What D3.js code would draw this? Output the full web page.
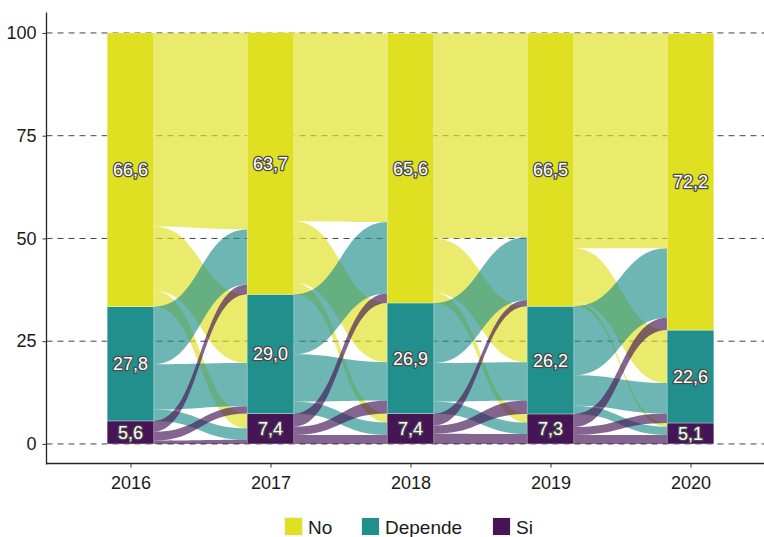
<!DOCTYPE html>
<html>
<head>
<meta charset="utf-8">
<script src="https://cdn.jsdelivr.net/npm/d3@7"></script>
<style>
  body { margin: 0; background: #fff; }
  text { font-family: "Liberation Sans", Arial, sans-serif; }
</style>
</head>
<body>
<svg id="chart" width="764" height="537"></svg>
<script>
// data
var years = ["2016", "2017", "2018", "2019", "2020"];
var categories = ["No", "Depende", "Si"];
var colors = ["#dfe021", "#21908c", "#451556"];

var no = [66.6, 63.7, 65.6, 66.5, 72.2];
var depende = [27.8, 29.0, 26.9, 26.2, 22.6];
var si = [5.6, 7.4, 7.4, 7.3, 5.1];

var yTicks = [0, 25, 50, 75, 100];

// flows leaving each year: rows = origin (No, Depende, Si), cols = destination
var flowsOut = [
  [[47.1, 15.6, 3.9], [14.0, 11.0, 2.8], [2.6, 2.2, 0.8]],
  [[45.9, 15.0, 2.8], [14.6, 11.5, 2.9], [3.2, 2.0, 2.2]],
  [[49.9, 13.3, 2.4], [14.6, 9.4, 2.9], [2.9, 2.0, 2.5]],
  [[52.4, 13.1, 1.0], [16.8, 7.4, 2.0], [3.2, 1.9, 2.2]]
];
// same flows where they arrive the next year
var flowsIn = [
  [[47.9, 16.7, 3.6], [13.4, 10.5, 2.8], [2.4, 1.8, 1.0]],
  [[45.9, 14.4, 2.2], [17.4, 9.3, 3.0], [2.3, 3.2, 2.2]],
  [[49.7, 13.6, 2.1], [15.3, 9.3, 2.8], [1.5, 3.3, 2.4]],
  [[52.3, 12.9, 0.9], [16.9, 7.4, 2.0], [3.0, 2.3, 2.2]]
];

var svg = d3.select("#chart");
var mLeft = 46.5, mRight = 774.5, mTop = 12.4, mBottom = 464.5;

var x = d3.scalePoint().domain(years).range([mLeft, mRight]).padding(0.6);
var y = d3.scaleLinear().domain([-5, 105]).range([mBottom, mTop]);
var barW = x.step() / 3;

var values = [no, depende, si];
var fmt = function(v) { return v.toFixed(1).replace(".", ","); };

// stacked bars: Si at the bottom, No on top
var strata = [];
years.forEach(function(yr, i) {
  var base = 0;
  for (var k = 2; k >= 0; k--) {
    strata.push({ year: yr, i: i, k: k, y0: base, y1: base + values[k][i], v: values[k][i] });
    base += values[k][i];
  }
});
function stratum(i, k) { return strata.find(function(s) { return s.i === i && s.k === k; }); }

// gridlines
svg.append("g").selectAll("line")
  .data(yTicks).enter().append("line")
    .attr("x1", mLeft).attr("x2", 764)
    .attr("y1", d => y(d)).attr("y2", d => y(d))
    .attr("stroke", "#444")
    .attr("stroke-width", 1)
    .attr("stroke-dasharray", "6,5");

// flows
var flows = [];
flowsOut.forEach(function(mat, t) {
  var outPos = [0, 1, 2].map(k => stratum(t, k).y1);
  var inPos = [0, 1, 2].map(j => stratum(t + 1, j).y1);
  for (var k = 0; k < 3; k++) {
    for (var j = 0; j < 3; j++) {
      var a = mat[k][j], b = flowsIn[t][k][j];
      flows.push({
        t: t, k: k,
        s1: outPos[k], s0: outPos[k] - a,
        e1: inPos[j], e0: inPos[j] - b
      });
      outPos[k] -= a;
      inPos[j] -= b;
    }
  }
});

function flowPath(f) {
  var x0 = x(years[f.t]) + barW / 2, x1 = x(years[f.t + 1]) - barW / 2;
  var xm = (x0 + x1) / 2;
  return "M" + x0 + "," + y(f.s1) +
    "C" + xm + "," + y(f.s1) + " " + xm + "," + y(f.e1) + " " + x1 + "," + y(f.e1) +
    "L" + x1 + "," + y(f.e0) +
    "C" + xm + "," + y(f.e0) + " " + xm + "," + y(f.s0) + " " + x0 + "," + y(f.s0) + "Z";
}

svg.append("g").selectAll("path")
  .data(flows).enter().append("path")
    .attr("d", flowPath)
    .attr("fill", d => colors[d.k])
    .attr("fill-opacity", 0.66);

// bars
svg.append("g").selectAll("rect")
  .data(strata).enter().append("rect")
    .attr("x", d => x(d.year) - barW / 2)
    .attr("width", barW)
    .attr("y", d => y(d.y1))
    .attr("height", d => y(d.y0) - y(d.y1))
    .attr("fill", d => colors[d.k])
    .attr("stroke", "white")
    .attr("stroke-opacity", 0.5)
    .attr("stroke-width", 0.6);

// labels
svg.append("g").selectAll("text")
  .data(strata).enter().append("text")
    .attr("x", d => x(d.year))
    .attr("y", d => y((d.y0 + d.y1) / 2))
    .attr("dy", "0.36em")
    .attr("text-anchor", "middle")
    .style("font-size", "18px")
    .style("paint-order", "stroke")
    .attr("fill", "white")
    .attr("stroke", "#4a4a4a")
    .attr("stroke-width", 2.6)
    .attr("stroke-linejoin", "round")
    .text(d => fmt(d.v));

// axes
var yAxis = svg.append("g")
  .attr("transform", "translate(" + mLeft + ",0)")
  .call(d3.axisLeft(y).tickValues(yTicks).tickSize(4).tickPadding(6));
yAxis.select(".domain").attr("d", "M0," + mTop + "V" + mBottom).attr("stroke", "#222").attr("stroke-width", 1.3);

var xAxis = svg.append("g")
  .attr("transform", "translate(0," + (mBottom - 1) + ")")
  .call(d3.axisBottom(x).tickSize(4).tickPadding(9));
xAxis.select(".domain").attr("d", "M" + mLeft + ",0H764").attr("stroke", "#222").attr("stroke-width", 1.3);

svg.selectAll(".tick line").attr("stroke", "#333");
svg.selectAll(".tick text")
  .style("font-size", "18px")
  .style("font-family", "'Liberation Sans', Arial, sans-serif")
  .attr("fill", "#1a1a1a");

// legend
var legendX = [285, 362, 493];
var legend = svg.append("g").selectAll("g")
  .data(categories).enter().append("g")
    .attr("transform", (d, i) => "translate(" + legendX[i] + ",518)");
legend.append("rect")
  .attr("x", -1).attr("y", -1).attr("width", 19).attr("height", 19)
  .attr("fill", "#f2f2f2");
legend.append("rect")
  .attr("width", 17).attr("height", 17)
  .attr("fill", (d, i) => colors[i]);
legend.append("text")
  .attr("x", 23).attr("y", 16)
  .style("font-size", "19px")
  .attr("fill", "#1a1a1a")
  .text(d => d);
</script>
</body>
</html>
